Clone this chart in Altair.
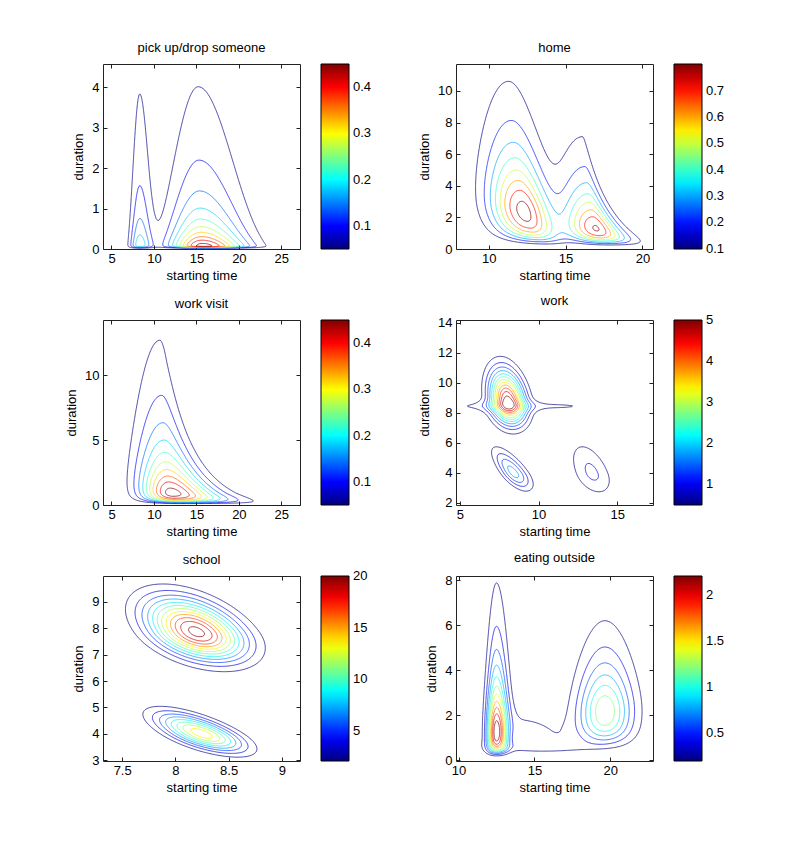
import math
import numpy as np
import pandas as pd
import altair as alt

FONT = "Liberation Sans"

TITLES = ["pick up/drop someone", "home", "work visit", "work", "school", "eating outside"]

# density components, one tuple per hump:
# (peak, x_mode, y_mode, x_spread_left, x_spread_right, y_spread_down, y_spread_up, tilt, right_widening)
PICKUP_COMPONENTS = [
    (0.21, 8.3, 0.10, 0.8, 1.0, 0.9, 2.13, 0.0, 0.0),
    (0.47, 15.8, 0.08, 2.6, 3.5, 0.7, 1.85, -0.15, 0.0),
]
HOME_COMPONENTS = [
    (0.84, 12.3, 2.4, 1.45, 1.15, 0.98, 0.72, -0.68, 0.0),
    (0.81, 17.0, 1.3, 1.3, 1.0, 0.8, 0.83, -0.53, 0.35),
]
WORK_VISIT_COMPONENTS = [
    (0.47, 12.1, 0.9, 2.4, 3.6, 1.0, 1.25, -0.53, 0.35),
]
WORK_COMPONENTS = [
    (5.15, 8.05, 8.75, 0.74, 0.74, 1.0, 1.4, -0.16, 0.0),
    (0.56, 8.8, 8.45, 6.5, 6.5, 0.28, 0.28, 0.0, 0.0),
    (1.9, 8.4, 4.0, 0.52, 0.6, 0.75, 1.05, -0.64, 0.0),
    (1.0, 13.4, 3.97, 0.85, 0.85, 1.05, 1.5, -0.35, 0.0),
]
SCHOOL_COMPONENTS = [
    (20.6, 8.2, 7.85, 0.276, 0.276, 0.70, 0.855, -0.173, 0.0),
    (14.5, 8.25, 4.0, 0.2, 0.2, 0.45, 0.53, -0.377, 0.0),
]
EATING_COMPONENTS = [
    (2.35, 12.5, 1.25, 0.42, 0.5, 0.83, 0.83, 0.0, 0.0),
    (1.36, 19.65, 2.2, 1.2, 1.25, 0.66, 0.53, 0.0, 0.0),
    (0.30, 15.5, 0.6, 2.5, 2.5, 0.4, 0.3, 0.0, 0.0),
    (0.24, 14.3, 1.4, 0.9, 2.3, 0.5, 0.4, -1.0, 0.0),
]
COMPONENTS = [PICKUP_COMPONENTS, HOME_COMPONENTS, WORK_VISIT_COMPONENTS,
              WORK_COMPONENTS, SCHOOL_COMPONENTS, EATING_COMPONENTS]
LOG_DURATION = [True, True, True, False, False, True]

X_DOMAINS = [[4.0, 27.2], [7.87, 20.69], [4.0, 27.2], [4.75, 17.27], [7.32, 9.17], [9.83, 22.82]]
Y_DOMAINS = [[0, 4.58], [0, 11.7], [0, 14.25], [1.85, 14.2], [2.97, 9.98], [-0.03, 8.2]]
X_TICKS = [[5, 10, 15, 20, 25], [10, 15, 20], [5, 10, 15, 20, 25], [5, 10, 15], [7.5, 8, 8.5, 9], [10, 15, 20]]
Y_TICKS = [[0, 1, 2, 3, 4], [0, 2, 4, 6, 8, 10], [0, 5, 10], [2, 4, 6, 8, 10, 12, 14], [3, 4, 5, 6, 7, 8, 9], [0, 2, 4, 6, 8]]
LEVEL_RANGES = [[0.05, 0.45], [0.1, 0.8], [0.05, 0.45], [0.5, 5.0], [2.1, 20.0], [0.2, 2.2]]
LEVEL_COUNTS = [10, 8, 10, 12, 12, 11]
CBAR_TICKS = [[0.1, 0.2, 0.3, 0.4], [0.1, 0.2, 0.3, 0.4, 0.5, 0.6, 0.7], [0.1, 0.2, 0.3, 0.4],
              [1, 2, 3, 4, 5], [5, 10, 15, 20], [0.5, 1, 1.5, 2]]

PLOT_W, PLOT_H = 197, 185
RAW_LABEL = "'' + datum.value"


def jet_hex(t):
    r = min(max(1.5 - abs(4 * t - 3), 0), 1)
    g = min(max(1.5 - abs(4 * t - 2), 0), 1)
    b = min(max(1.5 - abs(4 * t - 1), 0), 1)
    return "#%02x%02x%02x" % (round(r * 255), round(g * 255), round(b * 255))


def density(comps, X, Y, logy):
    U = np.log(Y) if logy else Y
    F = np.zeros_like(X)
    for (A, x0, y0, sxl, sxr, sud, suu, k, gr) in comps:
        u0 = math.log(y0) if logy else y0
        du = U - u0
        zu = np.where(du < 0, du / sud, du / suu)
        xc = x0 + k * du
        dx = X - xc
        sr = sxr * np.clip(1 - gr * zu, 0.3, None)
        zx = np.where(dx < 0, dx / sxl, dx / sr)
        F += A * np.exp(-0.5 * (zx ** 2 + zu ** 2))
    return F


def contour_paths(xs, ys, Z, level):
    above = Z >= level
    b00 = above[:-1, :-1]
    b01 = above[:-1, 1:]
    b11 = above[1:, 1:]
    b10 = above[1:, :-1]
    case = b00 * 1 + b01 * 2 + b11 * 4 + b10 * 8
    ii, jj = np.nonzero((case != 0) & (case != 15))
    adj = {}

    def add(a, b):
        adj.setdefault(a, []).append(b)
        adj.setdefault(b, []).append(a)

    for i, j in zip(ii, jj):
        e = []
        if b00[i, j] != b01[i, j]:
            e.append(('h', i, j))
        if b01[i, j] != b11[i, j]:
            e.append(('v', i, j + 1))
        if b11[i, j] != b10[i, j]:
            e.append(('h', i + 1, j))
        if b10[i, j] != b00[i, j]:
            e.append(('v', i, j))
        if len(e) == 2:
            add(e[0], e[1])
        elif len(e) == 4:
            center = Z[i:i + 2, j:j + 2].mean() >= level
            if center == b00[i, j]:
                add(e[0], e[1]); add(e[2], e[3])
            else:
                add(e[0], e[3]); add(e[1], e[2])

    def pt(e):
        kind, i, j = e
        if kind == 'h':
            z0, z1 = Z[i, j], Z[i, j + 1]
            t = (level - z0) / (z1 - z0)
            return xs[j] + t * (xs[j + 1] - xs[j]), ys[i]
        z0, z1 = Z[i, j], Z[i + 1, j]
        t = (level - z0) / (z1 - z0)
        return xs[j], ys[i] + t * (ys[i + 1] - ys[i])

    visited = set()
    paths = []
    starts = [n for n, nb in adj.items() if len(nb) == 1] + list(adj.keys())
    for s in starts:
        if s in visited:
            continue
        path = [s]
        visited.add(s)
        cur = s
        while True:
            nxt = [n for n in adj[cur] if n not in visited]
            if not nxt:
                if s in adj[cur] and len(path) > 2:
                    path.append(s)
                break
            cur = nxt[0]
            visited.add(cur)
            path.append(cur)
        paths.append([pt(e) for e in path])
    return paths


def panel_frame(p):
    xlo, xhi = X_DOMAINS[p]
    ylo, yhi = Y_DOMAINS[p]
    xs = np.linspace(xlo, xhi, 220)
    if LOG_DURATION[p]:
        ys = np.unique(np.concatenate([np.linspace(max(ylo, 0.004), yhi, 220),
                                       np.geomspace(0.004, yhi, 160)]))
    else:
        ys = np.linspace(ylo, yhi, 240)
    X, Y = np.meshgrid(xs, ys)
    Z = density(COMPONENTS[p], X, Y, LOG_DURATION[p])
    lo, hi = LEVEL_RANGES[p]
    levels = np.linspace(lo, hi, LEVEL_COUNTS[p])
    rows = []
    for li, L in enumerate(levels):
        for pi, path in enumerate(contour_paths(xs, ys, Z, L)):
            for k, (x, y) in enumerate(path):
                rows.append((round(float(x), 4), round(float(y), 4), round(float(L), 5), f"{li}_{pi}", k))
    return pd.DataFrame(rows, columns=["x", "y", "level", "path", "k"])


charts = []
for p in range(6):
    df = panel_frame(p)
    lo, hi = LEVEL_RANGES[p]
    eps = 1e-3 * (hi - lo)
    n_stops = 65
    stops = [lo - eps + (hi - lo + 2 * eps) * i / (n_stops - 1) for i in range(n_stops)]
    colors = [jet_hex(i / (n_stops - 1)) for i in range(n_stops)]
    xsc = alt.Scale(domain=X_DOMAINS[p], nice=False, zero=False)
    ysc = alt.Scale(domain=Y_DOMAINS[p], nice=False, zero=False)
    lines = alt.Chart(df).mark_line(strokeWidth=0.9, strokeOpacity=0.8, clip=True).encode(
        x=alt.X("x:Q", scale=xsc,
                axis=alt.Axis(values=X_TICKS[p], title="starting time", labelExpr=RAW_LABEL, offset=-4,
                              tickSize=4, labelPadding=3.5, titlePadding=3.5, minExtent=0)),
        y=alt.Y("y:Q", scale=ysc,
                axis=alt.Axis(values=Y_TICKS[p], title="duration", labelExpr=RAW_LABEL, offset=-4,
                              tickSize=4, labelPadding=4, titlePadding=6, minExtent=0)),
        color=alt.Color("level:Q", scale=alt.Scale(domain=stops, range=colors),
                        legend=alt.Legend(title=None, values=CBAR_TICKS[p], labelExpr=RAW_LABEL,
                                          gradientLength=PLOT_H, gradientThickness=28,
                                          offset=20, padding=0, labelOffset=4,
                                          gradientStrokeColor="black", gradientStrokeWidth=1,
                                          direction="vertical", orient="right")),
        detail="path:N",
        order="k:Q",
    )
    frame = alt.Chart(df.iloc[:1]).mark_point(opacity=0).encode(
        x=alt.X("x:Q", scale=xsc,
                axis=alt.Axis(orient="top", values=X_TICKS[p], labels=False, title=None,
                              offset=-4, tickSize=4, minExtent=0)),
        y=alt.Y("y:Q", scale=ysc,
                axis=alt.Axis(orient="right", values=Y_TICKS[p], labels=False, title=None,
                              offset=-4, tickSize=4, minExtent=0)),
    )
    ch = alt.layer(lines, frame).resolve_axis(x="independent", y="independent").properties(
        width=PLOT_W, height=PLOT_H,
        title=alt.Title(TITLES[p], fontSize=13, fontWeight="normal", font=FONT, color="black",
                        offset=-1, anchor="middle", baseline="alphabetic", frame="group"),
    )
    charts.append(ch)

chart = alt.concat(*charts, columns=2, spacing={"row": 71, "column": 156}, bounds="flush").resolve_scale(
    color="independent", x="independent", y="independent"
).properties(
    padding={"left": 65, "top": 41, "right": 5, "bottom": 5}, background="white"
).configure_view(stroke="#222", strokeWidth=1).configure_axis(
    domain=False, grid=False, labelFont=FONT, titleFont=FONT, labelFontSize=13, titleFontSize=13,
    labelColor="black", titleColor="black", tickColor="#222", titleFontWeight="normal"
).configure_legend(labelFont=FONT, labelFontSize=13, labelColor="black")

chart.save("out.html", embed_options={"renderer": "svg", "actions": False})
